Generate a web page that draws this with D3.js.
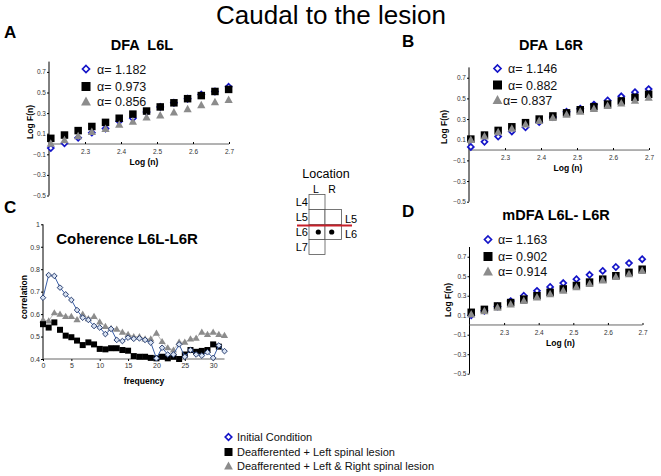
<!DOCTYPE html>
<html><head><meta charset="utf-8">
<script src="https://cdn.jsdelivr.net/npm/d3@7"></script>
<style>body{margin:0;background:#fff}svg{display:block;font-family:"Liberation Sans",Arial,sans-serif}</style>
</head><body><svg id="c" width="661" height="476"></svg>
<script>
// ---------- DATA ----------
const logN = [2.205, 2.243, 2.281, 2.319, 2.357, 2.395, 2.433, 2.471, 2.509, 2.547, 2.585, 2.623, 2.661, 2.699];
const dfaTicksX = [2.3, 2.4, 2.5, 2.6, 2.7];
const dfaTicksY = [-0.5, -0.3, -0.1, 0.1, 0.3, 0.5, 0.7];
const seriesNames = ["Initial Condition", "Deafferented + Left spinal lesion", "Deafferented + Left & Right spinal lesion"];

const aInitial = [-0.04, 0.007, 0.06, 0.11, 0.15, 0.22, 0.25, 0.31, 0.36, 0.40, 0.44, 0.48, 0.51, 0.556];
const aLeft    = [0.055, 0.087, 0.13, 0.17, 0.21, 0.25, 0.29, 0.32, 0.36, 0.40, 0.44, 0.47, 0.51, 0.53];
const aBoth    = [0.007, 0.04, 0.08, 0.12, 0.15, 0.19, 0.22, 0.26, 0.28, 0.31, 0.34, 0.38, 0.41, 0.43];
const aAlpha   = ["1.182", "0.973", "0.856"];

const bInitial = [0.03, 0.08, 0.13, 0.18, 0.22, 0.27, 0.32, 0.37, 0.40, 0.44, 0.48, 0.52, 0.56, 0.59];
const bLeft    = [0.106, 0.145, 0.19, 0.225, 0.265, 0.30, 0.33, 0.36, 0.39, 0.42, 0.445, 0.475, 0.51, 0.54];
const bBoth    = [0.10, 0.135, 0.175, 0.21, 0.25, 0.285, 0.315, 0.345, 0.375, 0.40, 0.43, 0.455, 0.48, 0.51];
const bAlpha   = ["1.146", "0.882", "0.837"];

const dInitial = [0.10, 0.145, 0.19, 0.245, 0.30, 0.35, 0.39, 0.43, 0.47, 0.515, 0.555, 0.595, 0.635, 0.675];
const dLeft    = [0.13, 0.16, 0.195, 0.23, 0.265, 0.30, 0.335, 0.37, 0.405, 0.44, 0.47, 0.505, 0.54, 0.572];
const dBoth    = [0.11, 0.145, 0.18, 0.215, 0.25, 0.285, 0.32, 0.355, 0.39, 0.425, 0.46, 0.495, 0.525, 0.558];
const dAlpha   = ["1.163", "0.902", "0.914"];

const freq = [0,1,2,3,4,5,6,7,8,9,10,11,12,13,14,15,16,17,18,19,20,21,22,23,24,25,26,27,28,29,30,31,32];
const cInitial = [0.673,0.774,0.77,0.718,0.688,0.663,0.618,0.584,0.574,0.547,0.54,0.511,0.534,0.485,0.48,0.495,0.49,0.492,0.485,0.473,0.403,0.45,0.42,0.42,0.465,0.41,0.44,0.42,0.415,0.43,0.405,0.46,0.435];
const cLeft    = [0.555,0.54,0.563,0.53,0.504,0.497,0.482,0.462,0.474,0.465,0.445,0.443,0.448,0.448,0.44,0.437,0.413,0.41,0.41,0.405,0.403,0.41,0.403,0.41,0.40,0.42,0.44,0.432,0.436,0.44,0.465,0.455];
const cBoth    = [0.574,0.57,0.606,0.60,0.59,0.59,0.575,0.60,0.58,0.59,0.565,0.545,0.537,0.533,0.52,0.51,0.50,0.50,0.49,0.49,0.515,0.478,0.45,0.44,0.475,0.475,0.49,0.493,0.52,0.51,0.52,0.51,0.505];
const cTicksX = [0, 5, 10, 15, 20, 25, 30];
const cTicksY = [0.4, 0.5, 0.6, 0.7, 0.8, 0.9, 1];

const locLeft = ["L4", "L5", "L6", "L7"];
const locRight = ["L5", "L6"];

// ---------- DRAW ----------
const svg = d3.select("#c");
const BLUE = "#1414c8", GRAY = "#8c8c8c";
const FONT = '"Liberation Sans",Arial,sans-serif';

svg.append("text").attr("x", 331).attr("y", 24).attr("text-anchor", "middle")
  .attr("font-size", 26).text("Caudal to the lesion");

function letter(t, x, y) {
  svg.append("text").attr("x", x).attr("y", y).attr("font-size", 17).attr("font-weight", "bold").text(t);
}
letter("A", 4, 38); letter("B", 402, 47); letter("C", 4, 213); letter("D", 402, 217);

function diamondPath(r) { return `M0,${-r}L${r},0L0,${r}L${-r},0Z`; }

function marker(g, type, x, y, s) {
  if (type === 0) {
    g.append("path").attr("d", diamondPath(s / 2))
      .attr("transform", `translate(${x},${y})`).attr("fill", "#fff").attr("stroke", BLUE).attr("stroke-width", 1.7);
  } else if (type === 1) {
    g.append("rect").attr("x", x - s / 2).attr("y", y - s / 2).attr("width", s).attr("height", s).attr("fill", "#000");
  } else {
    g.append("path").attr("d", `M0,${-s * 0.55}L${s * 0.55},${s * 0.45}L${-s * 0.55},${s * 0.45}Z`)
      .attr("transform", `translate(${x},${y})`).attr("fill", GRAY);
  }
}

function dfaPanel(cfg) {
  const g = svg.append("g");
  const x = d3.scaleLinear().domain([2.2, 2.7]).range(cfg.xr);
  const y = d3.scaleLinear().domain([-0.5, 0.8]).range(cfg.yr);
  const ya = g.append("g").attr("transform", `translate(${cfg.xr[0]},0)`)
    .call(d3.axisLeft(y).tickValues(dfaTicksY).tickSize(2).tickPadding(1).tickFormat(d3.format(".1f")));
  ya.select(".domain").attr("stroke", "#000").attr("d", `M0,${cfg.yr[0]}V${cfg.yr[1]}`);
  ya.selectAll("text").attr("font-size", 6.5).attr("fill", "#333").attr("font-family", FONT);
  const xa = g.append("g").attr("transform", `translate(0,${y(0)})`)
    .call(d3.axisBottom(x).tickValues(dfaTicksX).tickSize(2).tickPadding(3).tickFormat(d3.format(".1f")));
  xa.select(".domain").attr("stroke", "#666").attr("d", `M${cfg.xr[0]},0H${cfg.xr[1]}`);
  xa.selectAll(".tick line").attr("y1", -2).attr("y2", 0);
  xa.selectAll("text").attr("font-size", 6.5).attr("fill", "#333").attr("font-family", FONT);
  g.append("text").attr("x", cfg.xr[0] + cfg.xlabDx).attr("y", y(0) + 21).attr("text-anchor", "middle")
    .attr("font-size", 8.5).attr("font-weight", "bold").text("Log (n)");
  g.append("text").attr("transform", `translate(${cfg.xr[0] - cfg.ylabDx},${cfg.ylabY}) rotate(-90)`)
    .attr("text-anchor", "middle").attr("font-size", 8.5).attr("font-weight", "bold").text("Log F(n)");
  g.append("text").attr("x", cfg.title[0]).attr("y", cfg.title[1]).attr("text-anchor", "middle")
    .attr("font-size", 14.5).attr("font-weight", "bold").attr("xml:space", "preserve").text(cfg.titleText);
  const series = [cfg.s0, cfg.s1, cfg.s2];
  [0, 1, 2].forEach(k => {
    series[k].forEach((v, i) => marker(g, k, x(logN[i]), y(v), k === 0 ? 6 : 7.5));
  });
  cfg.leg.forEach((p, k) => {
    marker(g, k, p[0], p[1], k === 0 ? 7 : 9);
    g.append("text").attr("x", p[2]).attr("y", p[1] + 4.5).attr("font-size", 12.5).attr("fill", "#111")
      .text("\u03b1= " + cfg.alpha[k]);
  });
}

dfaPanel({ xr: [49, 229], yr: [195.5, 61.6], s0: aInitial, s1: aLeft, s2: aBoth, alpha: aAlpha,
  title: [142, 50], titleText: "DFA  L6L", xlabDx: 95, ylabDx: 16, ylabY: 122,
  leg: [[86, 69, 97], [86, 86.5, 97], [86, 101.5, 97]] });
dfaPanel({ xr: [469, 649], yr: [201.7, 67.4], s0: bInitial, s1: bLeft, s2: bBoth, alpha: bAlpha,
  title: [551, 50], titleText: "DFA  L6R", xlabDx: 99, ylabDx: 22, ylabY: 127,
  leg: [[497.5, 68.5, 508], [497.5, 85, 508], [497.5, 100, 503]] });
dfaPanel({ xr: [469.5, 642.5], yr: [373.7, 247], s0: dInitial, s1: dLeft, s2: dBoth, alpha: dAlpha,
  title: [556, 220], titleText: "mDFA L6L- L6R", xlabDx: 91, ylabDx: 19, ylabY: 300,
  leg: [[488, 239.5, 498], [488, 256.5, 498], [488, 271.5, 498]] });

// ---------- Panel C ----------
(function () {
  const g = svg.append("g");
  const x = d3.scaleLinear().domain([0, 32]).range([43, 224.5]);
  const y = d3.scaleLinear().domain([0.4, 1]).range([359, 224.3]);
  const ya = g.append("g").attr("transform", "translate(43,0)")
    .call(d3.axisLeft(y).tickValues(cTicksY).tickSize(2).tickPadding(1).tickFormat(d => d === 1 ? "1" : d3.format(".1f")(d)));
  ya.select(".domain").attr("stroke", "#000").attr("d", `M0,359V224.3`);
  ya.selectAll("text").attr("font-size", 7).attr("fill", "#333").attr("font-family", FONT);
  const xa = g.append("g").attr("transform", "translate(0,359)")
    .call(d3.axisBottom(x).tickValues(cTicksX).tickSize(2).tickPadding(2));
  xa.select(".domain").attr("stroke", "#666").attr("d", "M43,0H224.5");
  xa.selectAll("text").attr("font-size", 7).attr("fill", "#333").attr("font-family", FONT);
  g.append("text").attr("x", 144).attr("y", 384).attr("text-anchor", "middle").attr("font-size", 8.5)
    .attr("font-weight", "bold").text("frequency");
  g.append("text").attr("transform", "translate(27,297) rotate(-90)").attr("text-anchor", "middle")
    .attr("font-size", 8.5).attr("font-weight", "bold").text("correlation");
  g.append("text").attr("x", 127).attr("y", 244).attr("text-anchor", "middle").attr("font-size", 15)
    .attr("font-weight", "bold").text("Coherence L6L-L6R");

  const line = d3.line().x((d, i) => x(freq[i])).y(d => y(d));
  g.append("path").datum(cBoth).attr("d", line).attr("fill", "none").attr("stroke", "#aaa").attr("stroke-width", 0.8);
  cBoth.forEach((v, i) => g.append("path").attr("d", "M0,-3.6L3.6,2.6L-3.6,2.6Z")
    .attr("transform", `translate(${x(freq[i])},${y(v)})`).attr("fill", GRAY));
  cLeft.forEach((v, i) => g.append("rect").attr("x", x(freq[i]) - 3).attr("y", y(v) - 3)
    .attr("width", 6).attr("height", 6).attr("fill", "#000"));
  g.append("path").datum(cInitial).attr("d", line).attr("fill", "none").attr("stroke", "#3a5fa8").attr("stroke-width", 1);
  cInitial.forEach((v, i) => g.append("path").attr("d", diamondPath(2.8))
    .attr("transform", `translate(${x(freq[i])},${y(v)})`).attr("fill", "#d8e2f2").attr("stroke", "#2a3f70").attr("stroke-width", 1));
})();

// ---------- Location diagram ----------
(function () {
  const g = svg.append("g");
  g.append("text").attr("x", 326).attr("y", 178).attr("text-anchor", "middle").attr("font-size", 12.5).text("Location");
  g.append("text").attr("x", 316).attr("y", 192.5).attr("text-anchor", "middle").attr("font-size", 10.5).text("L");
  g.append("text").attr("x", 332).attr("y", 192.5).attr("text-anchor", "middle").attr("font-size", 10.5).text("R");
  const rowY = d3.scaleBand().domain(locLeft).range([194.5, 254.5]);
  locLeft.forEach(l => {
    g.append("rect").attr("x", 309).attr("y", rowY(l)).attr("width", 16).attr("height", rowY.bandwidth())
      .attr("fill", "#fff").attr("stroke", "#555").attr("stroke-width", 0.8);
    g.append("text").attr("x", 308).attr("y", rowY(l) + rowY.bandwidth() / 2 + 4).attr("text-anchor", "end")
      .attr("font-size", 11).text(l);
  });
  locRight.forEach(l => {
    g.append("rect").attr("x", 325).attr("y", rowY(l)).attr("width", 16.5).attr("height", rowY.bandwidth())
      .attr("fill", "#fff").attr("stroke", "#555").attr("stroke-width", 0.8);
    g.append("text").attr("x", 345).attr("y", rowY(l) + rowY.bandwidth() / 2 + 6).attr("font-size", 11).text(l);
  });
  g.append("line").attr("x1", 297).attr("x2", 352).attr("y1", 225.5).attr("y2", 225.5)
    .attr("stroke", "#c8202a").attr("stroke-width", 2);
  [318.3, 331.7].forEach(cx => g.append("circle").attr("cx", cx).attr("cy", 232).attr("r", 2.6).attr("fill", "#000"));
})();

// ---------- Bottom legend ----------
(function () {
  const g = svg.append("g");
  const ys = [437, 452, 466];
  seriesNames.forEach((n, k) => {
    marker(g, k, 228.5, ys[k], k === 0 ? 6.5 : 8);
    g.append("text").attr("x", 237).attr("y", ys[k] + 4).attr("font-size", 11).attr("fill", "#111").text(n);
  });
})();
</script></body></html>
